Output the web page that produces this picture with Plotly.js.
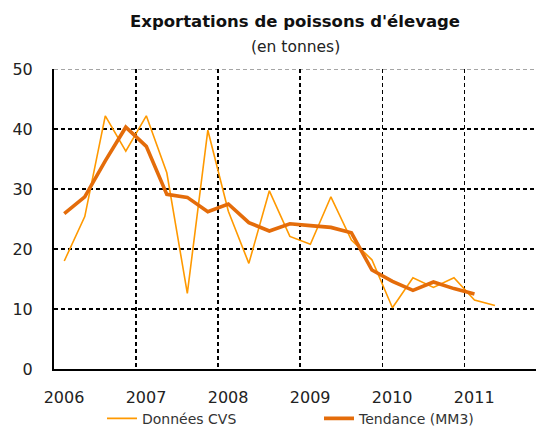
<!DOCTYPE html>
<html>
<head>
<meta charset="utf-8">
<script src="https://cdn.plot.ly/plotly-3.0.1.min.js"></script>
<style>html,body{margin:0;padding:0;background:#fff}#chart{width:536px;height:426px}</style>
</head>
<body>
<div id="chart"></div>
<script>
// Quarterly index: 0 = 2006 T1 ...
var quarters = [0,1,2,3,4,5,6,7,8,9,10,11,12,13,14,15,16,17,18,19,20,21];
var donneesCVS = [18.0,25.4,42.2,36.3,42.2,32.7,12.6,39.8,26.3,17.6,29.7,22.1,20.8,28.7,21.5,18.2,10.2,15.2,13.6,15.2,11.5,10.6];
var tendanceQ = [0,1,2,3,4,5,6,7,8,9,10,11,12,13,14,15,16,17,18,19,20];
var tendance = [25.9,28.7,34.7,40.3,37.1,29.1,28.6,26.2,27.5,24.4,23.0,24.2,23.9,23.6,22.7,16.5,14.6,13.1,14.5,13.4,12.5];
var yearLabels = ["2006","2007","2008","2009","2010","2011"];
var yearBounds = [-0.5,3.5,7.5,11.5,15.5,19.5];
var titleText = "Exportations de poissons d'élevage";
var subtitleText = "(en tonnes)";

var traces = [
  {x: quarters, y: donneesCVS, type: 'scatter', mode: 'lines', name: 'Données CVS',
   line: {color: '#FF9900', width: 1.6}},
  {x: tendanceQ, y: tendance, type: 'scatter', mode: 'lines', name: 'Tendance (MM3)',
   line: {color: '#E46C0A', width: 3.6}}
];

var layout = {
  width: 536, height: 426,
  margin: {l: 54, r: 0, t: 69, b: 57},
  paper_bgcolor: '#fff', plot_bgcolor: '#fff',
  font: {family: 'DejaVu Sans', color: '#222'},
  annotations: [
    {text: '<b>' + titleText + '</b>', xref: 'paper', yref: 'paper', x: 0.5, y: 1.157,
     xanchor: 'center', yanchor: 'middle', showarrow: false,
     font: {family: 'DejaVu Sans', size: 16.5, color: '#111'}},
    {text: subtitleText, xref: 'paper', yref: 'paper', x: 0.5, y: 1.073,
     xanchor: 'center', yanchor: 'middle', showarrow: false,
     font: {family: 'DejaVu Sans', size: 15.5, color: '#222'}}
  ],
  shapes: [
    {type: 'line', xref: 'paper', yref: 'y', x0: 0, x1: 1, y0: 50, y1: 50,
     line: {color: '#888', width: 1.3, dash: '4px,3px'}, layer: 'below'}
  ],
  xaxis: {
    range: [-0.5, 23.0], automargin: false,
    tickmode: 'array', tickvals: yearBounds, ticktext: yearLabels,
    ticklabelshift: 10, ticklabelstandoff: 13,
    ticks: '',
    showgrid: true, gridcolor: '#000', griddash: '4px,3px', gridwidth: 1.3,
    zeroline: false,
    showline: true, linecolor: '#000', linewidth: 2,
    tickfont: {family: 'DejaVu Sans', size: 16, color: '#222'}
  },
  yaxis: {
    range: [0, 50], dtick: 10, tick0: 0, automargin: false,
    ticks: '', ticklabelstandoff: 16,
    showgrid: true, gridcolor: '#000', griddash: '4px,3px', gridwidth: 1.3,
    zeroline: false,
    showline: true, linecolor: '#000', linewidth: 2,
    tickfont: {family: 'DejaVu Sans', size: 16, color: '#222'}
  },
  showlegend: true,
  legend: {
    orientation: 'h', x: 0.131, xanchor: 'left',
    yref: 'container', y: 0.017, yanchor: 'middle',
    entrywidth: 172, entrywidthmode: 'pixels',
    font: {family: 'DejaVu Sans', size: 14, color: '#333'},
    bgcolor: 'rgba(0,0,0,0)'
  }
};

Plotly.newPlot('chart', traces, layout, {displayModeBar: false, staticPlot: true});
</script>
</body>
</html>
